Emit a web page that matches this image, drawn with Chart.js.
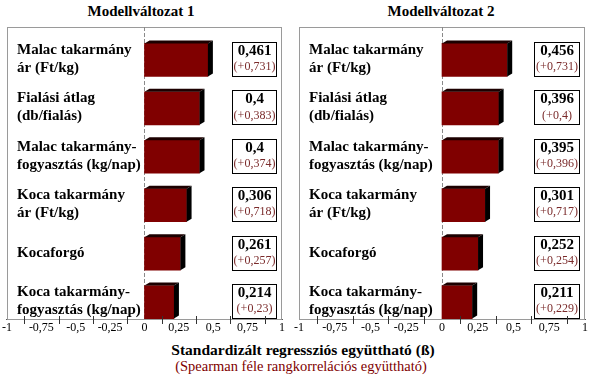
<!DOCTYPE html>
<html>
<head>
<meta charset="utf-8">
<script src="https://cdn.jsdelivr.net/npm/chart.js@4.4.1/dist/chart.umd.min.js"></script>
<style>
  html, body { margin:0; padding:0; background:#fff; }
  #wrap { position:relative; width:592px; height:378px; overflow:hidden; font-family:'Liberation Serif','Times New Roman',serif; }
  canvas { position:absolute; top:0; }
  .t { position:absolute; white-space:nowrap; transform:translateX(-50%); }
</style>
</head>
<body>
<div id="wrap">
  <div class="t" style="left:141px; top:3px; font-weight:bold; font-size:15px;">Modellváltozat 1</div>
  <div class="t" style="left:441px; top:3px; font-weight:bold; font-size:15px;">Modellváltozat 2</div>
  <canvas id="c1" width="290" height="340" style="left:0px;"></canvas>
  <canvas id="c2" width="302" height="340" style="left:290px;"></canvas>
  <div class="t" style="left:303px; top:341px; font-weight:bold; font-size:15.5px;">Standardizált regressziós együttható (ß)</div>
  <div class="t" style="left:301px; top:358px; font-size:14.5px; color:#800000;">(Spearman féle rangkorrelációs együttható)</div>
</div>
<script>
const categories = [
  ["Malac takarmány", "ár (Ft/kg)"],
  ["Fialási átlag", "(db/fialás)"],
  ["Malac takarmány-", "fogyasztás (kg/nap)"],
  ["Koca takarmány", "ár (Ft/kg)"],
  ["Kocaforgó"],
  ["Koca takarmány-", "fogyasztás (kg/nap)"]
];
const beta1 = [0.461, 0.4, 0.4, 0.306, 0.261, 0.214];
const rho1  = [0.731, 0.383, 0.374, 0.718, 0.257, 0.23];
const beta2 = [0.456, 0.396, 0.395, 0.301, 0.252, 0.211];
const rho2  = [0.731, 0.4, 0.396, 0.717, 0.254, 0.229];
const xTicks = [-1, -0.75, -0.5, -0.25, 0, 0.25, 0.5, 0.75, 1];

const SERIF = "'Liberation Serif','Times New Roman',serif";
const fmt = v => String(v).replace('.', ',');

function makeChart(id, beta, rho, padL, padR) {
  const overlay = {
    id: 'overlay',
    beforeDatasetsDraw(chart) {
      const {ctx, chartArea: a, scales: {x}} = chart;
      ctx.save();
      ctx.strokeStyle = '#9a9a9a';
      ctx.lineWidth = 1;
      ctx.strokeRect(Math.round(a.left)+0.5, Math.round(a.top)+0.5, Math.round(a.right-a.left)-1, Math.round(a.bottom-a.top));
      const zx = Math.round(x.getPixelForValue(0)) + 0.5;
      ctx.setLineDash([4, 2]);
      ctx.strokeStyle = '#8a8a8a';
      ctx.beginPath(); ctx.moveTo(zx, a.top); ctx.lineTo(zx, a.bottom); ctx.stroke();
      ctx.restore();
    },
    afterDatasetsDraw(chart) {
      const {ctx, chartArea: a, scales: {x}} = chart;
      const meta = chart.getDatasetMeta(0);
      ctx.save();
      const d = 5, dy = 3;
      meta.data.forEach((bar, i) => {
        const p = bar.getProps(['x','y','base','height'], true);
        const top = p.y - p.height/2, bottom = p.y + p.height/2;
        ctx.fillStyle = '#1c0000';
        ctx.beginPath();
        ctx.moveTo(p.base, top); ctx.lineTo(p.base + d, top - dy);
        ctx.lineTo(p.x + d, top - dy); ctx.lineTo(p.x, top); ctx.closePath(); ctx.fill();
        ctx.fillStyle = '#000';
        ctx.beginPath();
        ctx.moveTo(p.x, top); ctx.lineTo(p.x + d, top - dy);
        ctx.lineTo(p.x + d, bottom - dy); ctx.lineTo(p.x, bottom); ctx.closePath(); ctx.fill();

        // category label
        const lines = categories[i];
        ctx.fillStyle = '#000';
        ctx.font = 'bold 15px ' + SERIF;
        ctx.textAlign = 'left'; ctx.textBaseline = 'middle';
        const lx = x.getPixelForValue(-1) + 10;
        const cy = p.y - 1;
        lines.forEach((ln, k) => {
          ctx.fillText(ln, lx, cy + (k - (lines.length-1)/2) * 18);
        });

        // value box
        const bx1 = Math.round(x.getPixelForValue(0.64)) + 0.5;
        const bx2 = Math.round(x.getPixelForValue(0.96)) + 0.5;
        const by1 = Math.round(cy - 17) + 0.5, by2 = Math.round(cy + 17) + 0.5;
        ctx.fillStyle = '#fff';
        ctx.fillRect(bx1, by1, bx2-bx1, by2-by1);
        ctx.strokeStyle = '#000'; ctx.lineWidth = 1;
        ctx.strokeRect(bx1, by1, bx2-bx1, by2-by1);
        const bcx = (bx1 + bx2)/2;
        ctx.textAlign = 'center';
        ctx.fillStyle = '#000';
        ctx.font = 'bold 15px ' + SERIF;
        ctx.fillText(fmt(beta[i]), bcx, cy - 8);
        ctx.fillStyle = '#7a2a2a';
        ctx.font = '12px ' + SERIF;
        ctx.fillText('(+' + fmt(rho[i]) + ')', bcx, cy + 8);
      });
      // axis tick marks at midpoints between labels
      ctx.strokeStyle = '#333'; ctx.lineWidth = 1;
      for (let k = 0; k < xTicks.length - 1; k++) {
        const v = (xTicks[k] + xTicks[k+1]) / 2;
        const px = Math.round(x.getPixelForValue(v)) + 0.5;
        ctx.beginPath(); ctx.moveTo(px, a.bottom - 3); ctx.lineTo(px, a.bottom + 5); ctx.stroke();
      }
      ctx.restore();
    }
  };

  return new Chart(document.getElementById(id), {
    type: 'bar',
    data: {
      datasets: [{
        data: beta.map((v, i) => ({x: v, y: i})),
        backgroundColor: '#800000',
        borderWidth: 0,
        barThickness: 33
      }]
    },
    options: {
      indexAxis: 'y',
      responsive: false,
      animation: false,
      events: [],
      layout: { padding: { left: padL, right: padR, top: 27, bottom: 0 } },
      plugins: { legend: { display: false }, tooltip: { enabled: false } },
      scales: {
        x: {
          type: 'linear', min: -1, max: 1,
          afterBuildTicks: s => { s.ticks = xTicks.map(v => ({value: v})); },
          afterFit: s => { s.height = 21; },
          grid: { display: false, drawTicks: false },
          border: { display: true, color: '#555', width: 1 },
          ticks: {
            padding: 2, color: '#000', autoSkip: false, maxRotation: 0,
            font: { family: SERIF, size: 12 },
            callback: v => fmt(v)
          }
        },
        y: {
          type: 'linear', reverse: true, min: -0.68, max: 5.35,
          offset: false,
          grid: { offset: false },
          display: false
        }
      }
    },
    plugins: [overlay]
  });
}

makeChart('c1', beta1, rho1, 6, 8);
makeChart('c2', beta2, rho2, 9, 7);
</script>
</body>
</html>
